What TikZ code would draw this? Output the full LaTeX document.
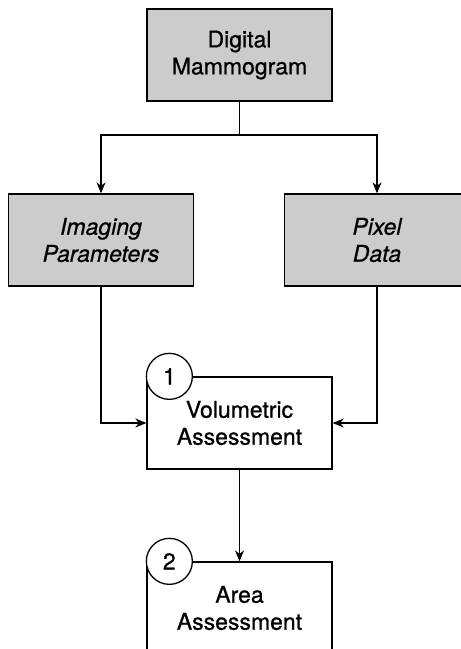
\documentclass[tikz,border=0pt]{standalone}
\usepackage{fontspec}
\setmainfont{TeX Gyre Heros}[FakeBold=0.8]
\usetikzlibrary{arrows.meta}
\begin{document}
\begin{tikzpicture}[x=1pt,y=1pt,line width=1.3pt,
    box/.style={draw,minimum width=185pt,minimum height=92pt,inner sep=0pt,align=center,
        font=\fontsize{23}{27}\selectfont},
    inbox/.style={box,fill=black!20},
    num/.style={draw,circle,fill=white,minimum size=46pt,inner sep=0pt,
        font=\fontsize{23}{27}\selectfont},
    arr/.style={-{Stealth[length=11pt,width=9pt,inset=3.5pt]}}]
    \useasboundingbox (0,0) rectangle (461,-649);
    \clip (0,0) rectangle (461,-649);

    \node[inbox] (mammo) at (239.5,-55) {Digital\\Mammogram};
    \node[inbox] (imaging) at (101,-240) {\itshape Imaging\\\itshape Parameters};
    \node[inbox] (pixel) at (377,-240) {\itshape Pixel\\\itshape Data};

    \coordinate (split) at (239.5,-135);
    \draw (mammo) -- (split);
    \draw[arr] (split) -| (imaging);
    \draw[arr] (split) -| (pixel);

    \node[box] (volum) at (239.5,-423) {Volumetric\\Assessment};
    \node[box] (area) at (239.5,-608) {Area\\Assessment};
    \draw[arr] (imaging.south) |- (volum.west);
    \draw[arr] (pixel.south) |- (volum.east);
    \draw[arr] (volum) -- (area);

    \node[num] (one) at ([xshift=23pt]volum.north west) {1};
    \node[num] (two) at ([xshift=23pt]area.north west) {2};
\end{tikzpicture}
\end{document}
